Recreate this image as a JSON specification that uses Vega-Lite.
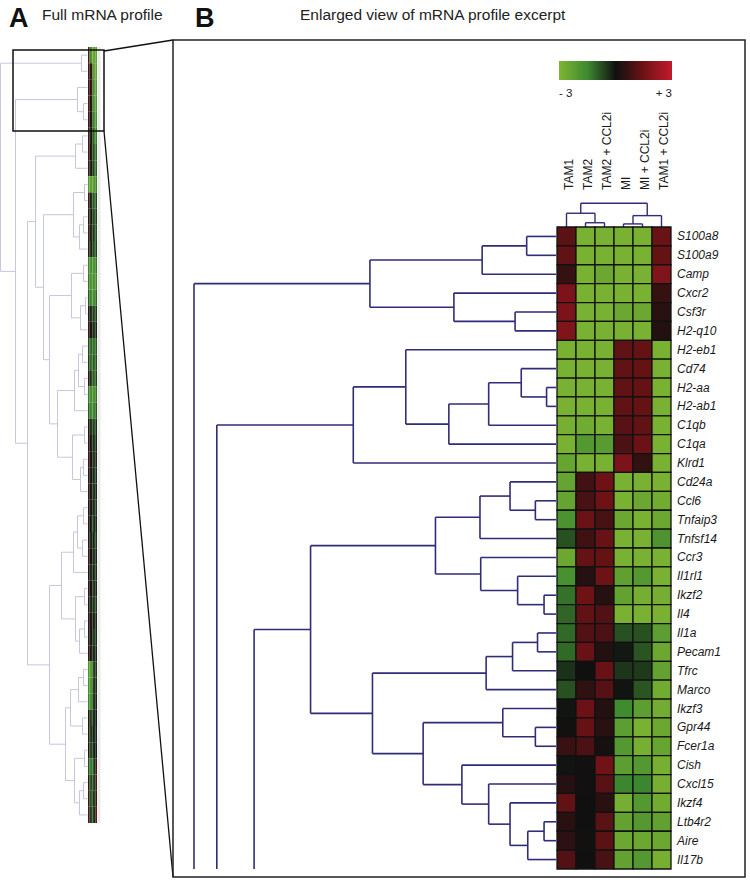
{
"$schema":"https://vega.github.io/schema/vega-lite/v6.json",
"width":750,"height":884,"autosize":{"type":"none"},"padding":0,
"background":"white",
"config":{"view":{"stroke":null},"font":"Liberation Sans"},
"datasets":{
"heatB":[
{"g":"S100a8","c":"TAM1","v":1.2},{"g":"S100a8","c":"TAM2","v":-2.85},{"g":"S100a8","c":"TAM2 + CCL2i","v":-2.85},{"g":"S100a8","c":"MI","v":-2.85},{"g":"S100a8","c":"MI + CCL2i","v":-2.85},{"g":"S100a8","c":"TAM1 + CCL2i","v":1.45},
{"g":"S100a9","c":"TAM1","v":1.3},{"g":"S100a9","c":"TAM2","v":-2.85},{"g":"S100a9","c":"TAM2 + CCL2i","v":-2.85},{"g":"S100a9","c":"MI","v":-2.85},{"g":"S100a9","c":"MI + CCL2i","v":-2.85},{"g":"S100a9","c":"TAM1 + CCL2i","v":1.35},
{"g":"Camp","c":"TAM1","v":0.6},{"g":"Camp","c":"TAM2","v":-2.85},{"g":"Camp","c":"TAM2 + CCL2i","v":-2.55},{"g":"Camp","c":"MI","v":-2.85},{"g":"Camp","c":"MI + CCL2i","v":-2.85},{"g":"Camp","c":"TAM1 + CCL2i","v":1.8},
{"g":"Cxcr2","c":"TAM1","v":1.75},{"g":"Cxcr2","c":"TAM2","v":-2.85},{"g":"Cxcr2","c":"TAM2 + CCL2i","v":-2.85},{"g":"Cxcr2","c":"MI","v":-2.85},{"g":"Cxcr2","c":"MI + CCL2i","v":-2.85},{"g":"Cxcr2","c":"TAM1 + CCL2i","v":0.6},
{"g":"Csf3r","c":"TAM1","v":1.75},{"g":"Csf3r","c":"TAM2","v":-2.85},{"g":"Csf3r","c":"TAM2 + CCL2i","v":-2.85},{"g":"Csf3r","c":"MI","v":-2.55},{"g":"Csf3r","c":"MI + CCL2i","v":-2.55},{"g":"Csf3r","c":"TAM1 + CCL2i","v":0.4},
{"g":"H2-q10","c":"TAM1","v":1.8},{"g":"H2-q10","c":"TAM2","v":-2.85},{"g":"H2-q10","c":"TAM2 + CCL2i","v":-2.85},{"g":"H2-q10","c":"MI","v":-2.85},{"g":"H2-q10","c":"MI + CCL2i","v":-2.85},{"g":"H2-q10","c":"TAM1 + CCL2i","v":0.3},
{"g":"H2-eb1","c":"TAM1","v":-2.85},{"g":"H2-eb1","c":"TAM2","v":-2.85},{"g":"H2-eb1","c":"TAM2 + CCL2i","v":-2.85},{"g":"H2-eb1","c":"MI","v":1.3},{"g":"H2-eb1","c":"MI + CCL2i","v":1.35},{"g":"H2-eb1","c":"TAM1 + CCL2i","v":-2.85},
{"g":"Cd74","c":"TAM1","v":-2.85},{"g":"Cd74","c":"TAM2","v":-2.85},{"g":"Cd74","c":"TAM2 + CCL2i","v":-2.85},{"g":"Cd74","c":"MI","v":1.3},{"g":"Cd74","c":"MI + CCL2i","v":1.35},{"g":"Cd74","c":"TAM1 + CCL2i","v":-2.85},
{"g":"H2-aa","c":"TAM1","v":-2.85},{"g":"H2-aa","c":"TAM2","v":-2.85},{"g":"H2-aa","c":"TAM2 + CCL2i","v":-2.85},{"g":"H2-aa","c":"MI","v":1.3},{"g":"H2-aa","c":"MI + CCL2i","v":1.35},{"g":"H2-aa","c":"TAM1 + CCL2i","v":-2.85},
{"g":"H2-ab1","c":"TAM1","v":-2.85},{"g":"H2-ab1","c":"TAM2","v":-2.85},{"g":"H2-ab1","c":"TAM2 + CCL2i","v":-2.85},{"g":"H2-ab1","c":"MI","v":1.3},{"g":"H2-ab1","c":"MI + CCL2i","v":1.35},{"g":"H2-ab1","c":"TAM1 + CCL2i","v":-2.85},
{"g":"C1qb","c":"TAM1","v":-2.8},{"g":"C1qb","c":"TAM2","v":-2.65},{"g":"C1qb","c":"TAM2 + CCL2i","v":-2.85},{"g":"C1qb","c":"MI","v":1.15},{"g":"C1qb","c":"MI + CCL2i","v":1.3},{"g":"C1qb","c":"TAM1 + CCL2i","v":-2.85},
{"g":"C1qa","c":"TAM1","v":-2.85},{"g":"C1qa","c":"TAM2","v":-2.0},{"g":"C1qa","c":"TAM2 + CCL2i","v":-2.1},{"g":"C1qa","c":"MI","v":0.95},{"g":"C1qa","c":"MI + CCL2i","v":1.45},{"g":"C1qa","c":"TAM1 + CCL2i","v":-2.85},
{"g":"Klrd1","c":"TAM1","v":-2.45},{"g":"Klrd1","c":"TAM2","v":-2.85},{"g":"Klrd1","c":"TAM2 + CCL2i","v":-2.85},{"g":"Klrd1","c":"MI","v":1.75},{"g":"Klrd1","c":"MI + CCL2i","v":0.55},{"g":"Klrd1","c":"TAM1 + CCL2i","v":-2.85},
{"g":"Cd24a","c":"TAM1","v":-2.4},{"g":"Cd24a","c":"TAM2","v":0.8},{"g":"Cd24a","c":"TAM2 + CCL2i","v":1.5},{"g":"Cd24a","c":"MI","v":-2.85},{"g":"Cd24a","c":"MI + CCL2i","v":-2.85},{"g":"Cd24a","c":"TAM1 + CCL2i","v":-2.85},
{"g":"Ccl6","c":"TAM1","v":-2.4},{"g":"Ccl6","c":"TAM2","v":0.9},{"g":"Ccl6","c":"TAM2 + CCL2i","v":1.5},{"g":"Ccl6","c":"MI","v":-2.85},{"g":"Ccl6","c":"MI + CCL2i","v":-2.55},{"g":"Ccl6","c":"TAM1 + CCL2i","v":-2.65},
{"g":"Tnfaip3","c":"TAM1","v":-1.8},{"g":"Tnfaip3","c":"TAM2","v":1.45},{"g":"Tnfaip3","c":"TAM2 + CCL2i","v":0.9},{"g":"Tnfaip3","c":"MI","v":-2.55},{"g":"Tnfaip3","c":"MI + CCL2i","v":-2.85},{"g":"Tnfaip3","c":"TAM1 + CCL2i","v":-2.55},
{"g":"Tnfsf14","c":"TAM1","v":-0.8},{"g":"Tnfsf14","c":"TAM2","v":0.75},{"g":"Tnfsf14","c":"TAM2 + CCL2i","v":1.4},{"g":"Tnfsf14","c":"MI","v":-2.85},{"g":"Tnfsf14","c":"MI + CCL2i","v":-2.85},{"g":"Tnfsf14","c":"TAM1 + CCL2i","v":-1.85},
{"g":"Ccr3","c":"TAM1","v":-2.55},{"g":"Ccr3","c":"TAM2","v":1.35},{"g":"Ccr3","c":"TAM2 + CCL2i","v":1.35},{"g":"Ccr3","c":"MI","v":-2.85},{"g":"Ccr3","c":"MI + CCL2i","v":-2.85},{"g":"Ccr3","c":"TAM1 + CCL2i","v":-2.85},
{"g":"Il1rl1","c":"TAM1","v":-1.75},{"g":"Il1rl1","c":"TAM2","v":0.35},{"g":"Il1rl1","c":"TAM2 + CCL2i","v":1.5},{"g":"Il1rl1","c":"MI","v":-2.25},{"g":"Il1rl1","c":"MI + CCL2i","v":-2.0},{"g":"Il1rl1","c":"TAM1 + CCL2i","v":-2.85},
{"g":"Ikzf2","c":"TAM1","v":-1.2},{"g":"Ikzf2","c":"TAM2","v":1.5},{"g":"Ikzf2","c":"TAM2 + CCL2i","v":0.35},{"g":"Ikzf2","c":"MI","v":-2.35},{"g":"Ikzf2","c":"MI + CCL2i","v":-2.75},{"g":"Ikzf2","c":"TAM1 + CCL2i","v":-2.75},
{"g":"Il4","c":"TAM1","v":-1.05},{"g":"Il4","c":"TAM2","v":1.3},{"g":"Il4","c":"TAM2 + CCL2i","v":1.05},{"g":"Il4","c":"MI","v":-2.85},{"g":"Il4","c":"MI + CCL2i","v":-2.85},{"g":"Il4","c":"TAM1 + CCL2i","v":-2.85},
{"g":"Il1a","c":"TAM1","v":-1.1},{"g":"Il1a","c":"TAM2","v":1.05},{"g":"Il1a","c":"TAM2 + CCL2i","v":0.95},{"g":"Il1a","c":"MI","v":-0.8},{"g":"Il1a","c":"MI + CCL2i","v":-0.8},{"g":"Il1a","c":"TAM1 + CCL2i","v":-2.2},
{"g":"Pecam1","c":"TAM1","v":-1.1},{"g":"Pecam1","c":"TAM2","v":1.4},{"g":"Pecam1","c":"TAM2 + CCL2i","v":0.3},{"g":"Pecam1","c":"MI","v":-0.1},{"g":"Pecam1","c":"MI + CCL2i","v":-0.85},{"g":"Pecam1","c":"TAM1 + CCL2i","v":-2.55},
{"g":"Tfrc","c":"TAM1","v":-0.4},{"g":"Tfrc","c":"TAM2","v":0.0},{"g":"Tfrc","c":"TAM2 + CCL2i","v":1.4},{"g":"Tfrc","c":"MI","v":-0.45},{"g":"Tfrc","c":"MI + CCL2i","v":-0.5},{"g":"Tfrc","c":"TAM1 + CCL2i","v":-2.35},
{"g":"Marco","c":"TAM1","v":-0.8},{"g":"Marco","c":"TAM2","v":0.5},{"g":"Marco","c":"TAM2 + CCL2i","v":1.1},{"g":"Marco","c":"MI","v":-0.05},{"g":"Marco","c":"MI + CCL2i","v":-0.85},{"g":"Marco","c":"TAM1 + CCL2i","v":-2.65},
{"g":"Ikzf3","c":"TAM1","v":-0.05},{"g":"Ikzf3","c":"TAM2","v":1.45},{"g":"Ikzf3","c":"TAM2 + CCL2i","v":0.3},{"g":"Ikzf3","c":"MI","v":-1.55},{"g":"Ikzf3","c":"MI + CCL2i","v":-2.2},{"g":"Ikzf3","c":"TAM1 + CCL2i","v":-2.7},
{"g":"Gpr44","c":"TAM1","v":0.05},{"g":"Gpr44","c":"TAM2","v":1.35},{"g":"Gpr44","c":"TAM2 + CCL2i","v":0.4},{"g":"Gpr44","c":"MI","v":-2.2},{"g":"Gpr44","c":"MI + CCL2i","v":-2.85},{"g":"Gpr44","c":"TAM1 + CCL2i","v":-2.55},
{"g":"Fcer1a","c":"TAM1","v":0.65},{"g":"Fcer1a","c":"TAM2","v":0.95},{"g":"Fcer1a","c":"TAM2 + CCL2i","v":0.1},{"g":"Fcer1a","c":"MI","v":-2.0},{"g":"Fcer1a","c":"MI + CCL2i","v":-2.8},{"g":"Fcer1a","c":"TAM1 + CCL2i","v":-2.45},
{"g":"Cish","c":"TAM1","v":-0.05},{"g":"Cish","c":"TAM2","v":0.05},{"g":"Cish","c":"TAM2 + CCL2i","v":1.55},{"g":"Cish","c":"MI","v":-2.2},{"g":"Cish","c":"MI + CCL2i","v":-2.0},{"g":"Cish","c":"TAM1 + CCL2i","v":-2.8},
{"g":"Cxcl15","c":"TAM1","v":0.35},{"g":"Cxcl15","c":"TAM2","v":0.03},{"g":"Cxcl15","c":"TAM2 + CCL2i","v":1.15},{"g":"Cxcl15","c":"MI","v":-1.45},{"g":"Cxcl15","c":"MI + CCL2i","v":-1.45},{"g":"Cxcl15","c":"TAM1 + CCL2i","v":-2.8},
{"g":"Ikzf4","c":"TAM1","v":1.3},{"g":"Ikzf4","c":"TAM2","v":0.0},{"g":"Ikzf4","c":"TAM2 + CCL2i","v":0.4},{"g":"Ikzf4","c":"MI","v":-2.75},{"g":"Ikzf4","c":"MI + CCL2i","v":-2.0},{"g":"Ikzf4","c":"TAM1 + CCL2i","v":-2.65},
{"g":"Ltb4r2","c":"TAM1","v":0.4},{"g":"Ltb4r2","c":"TAM2","v":0.0},{"g":"Ltb4r2","c":"TAM2 + CCL2i","v":1.2},{"g":"Ltb4r2","c":"MI","v":-2.35},{"g":"Ltb4r2","c":"MI + CCL2i","v":-2.0},{"g":"Ltb4r2","c":"TAM1 + CCL2i","v":-2.3},
{"g":"Aire","c":"TAM1","v":0.45},{"g":"Aire","c":"TAM2","v":0.05},{"g":"Aire","c":"TAM2 + CCL2i","v":1.2},{"g":"Aire","c":"MI","v":-2.55},{"g":"Aire","c":"MI + CCL2i","v":-2.55},{"g":"Aire","c":"TAM1 + CCL2i","v":-2.55},
{"g":"Il17b","c":"TAM1","v":1.05},{"g":"Il17b","c":"TAM2","v":0.0},{"g":"Il17b","c":"TAM2 + CCL2i","v":0.9},{"g":"Il17b","c":"MI","v":-2.35},{"g":"Il17b","c":"MI + CCL2i","v":-2.0},{"g":"Il17b","c":"TAM1 + CCL2i","v":-2.8}
],
"dendroB":[
{"h":8.1,"y1":0.5,"h1":0,"y2":1.5,"h2":0},
{"h":20.4,"y1":1.0,"h1":8.1,"y2":2.5,"h2":0},
{"h":11.3,"y1":4.5,"h1":0,"y2":5.5,"h2":0},
{"h":28.2,"y1":3.5,"h1":0,"y2":5.0,"h2":11.3},
{"h":51.4,"y1":1.75,"h1":20.4,"y2":4.25,"h2":28.2},
{"h":100,"y1":3.0,"h1":51.4,"y2":34,"h2":100},
{"h":2.6,"y1":8.5,"h1":0,"y2":9.5,"h2":0},
{"h":9.6,"y1":7.5,"h1":0,"y2":9.0,"h2":2.6},
{"h":18.6,"y1":8.25,"h1":9.6,"y2":10.5,"h2":0},
{"h":29.6,"y1":9.375,"h1":18.6,"y2":11.5,"h2":0},
{"h":41.5,"y1":6.5,"h1":0,"y2":10.4375,"h2":29.6},
{"h":56.0,"y1":8.469,"h1":41.5,"y2":12.5,"h2":0},
{"h":93.7,"y1":10.484,"h1":56.0,"y2":34,"h2":93.7},
{"h":5.7,"y1":14.5,"h1":0,"y2":15.5,"h2":0},
{"h":12.7,"y1":13.5,"h1":0,"y2":15.0,"h2":5.7},
{"h":21.0,"y1":14.25,"h1":12.7,"y2":16.5,"h2":0},
{"h":3.3,"y1":19.5,"h1":0,"y2":20.5,"h2":0},
{"h":10.6,"y1":18.5,"h1":0,"y2":20.0,"h2":3.3},
{"h":20.8,"y1":17.5,"h1":0,"y2":19.25,"h2":10.6},
{"h":33.3,"y1":15.375,"h1":21.0,"y2":18.375,"h2":20.8},
{"h":5.1,"y1":21.5,"h1":0,"y2":22.5,"h2":0},
{"h":12.0,"y1":22.0,"h1":5.1,"y2":23.5,"h2":0},
{"h":19.3,"y1":22.75,"h1":12.0,"y2":24.5,"h2":0},
{"h":5.7,"y1":26.5,"h1":0,"y2":27.5,"h2":0},
{"h":14.7,"y1":25.5,"h1":0,"y2":27.0,"h2":5.7},
{"h":3.3,"y1":31.5,"h1":0,"y2":32.5,"h2":0},
{"h":7.8,"y1":32.0,"h1":3.3,"y2":33.5,"h2":0},
{"h":12.7,"y1":30.5,"h1":0,"y2":32.75,"h2":7.8},
{"h":18.6,"y1":29.5,"h1":0,"y2":31.625,"h2":12.7},
{"h":26.0,"y1":28.5,"h1":0,"y2":30.5625,"h2":18.6},
{"h":36.7,"y1":26.25,"h1":14.7,"y2":29.531,"h2":26.0},
{"h":50.7,"y1":23.625,"h1":19.3,"y2":27.89,"h2":36.7},
{"h":67.8,"y1":16.875,"h1":33.3,"y2":25.758,"h2":50.7},
{"h":83.4,"y1":21.316,"h1":67.8,"y2":34,"h2":83.4}
],
"dendroC":[
{"h":1.8,"x1":1.5,"h1":0,"x2":2.5,"h2":0},
{"h":5.8,"x1":0.5,"h1":0,"x2":2.0,"h2":1.8},
{"h":1.3,"x1":3.5,"h1":0,"x2":4.5,"h2":0},
{"h":4.8,"x1":4.0,"h1":1.3,"x2":5.5,"h2":0},
{"h":10,"x1":1.25,"h1":5.8,"x2":4.75,"h2":4.8}
],
"dendroA":[
{"h":6,"y1":0.5,"h1":0,"y2":1.5,"h2":0},
{"h":4,"y1":3.5,"h1":0,"y2":4.5,"h2":0},
{"h":10,"y1":2.5,"h1":0,"y2":4.0,"h2":4},
{"h":5,"y1":5.5,"h1":0,"y2":6.5,"h2":0},
{"h":12,"y1":6.0,"h1":5,"y2":7.5,"h2":0},
{"h":3,"y1":8.5,"h1":0,"y2":9.5,"h2":0},
{"h":4,"y1":10.5,"h1":0,"y2":11.5,"h2":0},
{"h":8,"y1":11.0,"h1":4,"y2":12.5,"h2":0},
{"h":14,"y1":9.0,"h1":3,"y2":11.75,"h2":8},
{"h":4,"y1":13.5,"h1":0,"y2":14.5,"h2":0},
{"h":2,"y1":15.5,"h1":0,"y2":16.5,"h2":0},
{"h":7,"y1":16.0,"h1":2,"y2":17.5,"h2":0},
{"h":16,"y1":14.0,"h1":4,"y2":16.75,"h2":7},
{"h":5,"y1":18.5,"h1":0,"y2":19.5,"h2":0},
{"h":3,"y1":20.5,"h1":0,"y2":21.5,"h2":0},
{"h":9,"y1":19.0,"h1":5,"y2":21.0,"h2":3},
{"h":13,"y1":20.0,"h1":9,"y2":22.5,"h2":0},
{"h":3,"y1":23.5,"h1":0,"y2":24.5,"h2":0},
{"h":4,"y1":25.5,"h1":0,"y2":26.5,"h2":0},
{"h":7,"y1":26.0,"h1":4,"y2":27.5,"h2":0},
{"h":15,"y1":24.0,"h1":3,"y2":26.75,"h2":7},
{"h":4,"y1":28.5,"h1":0,"y2":29.5,"h2":0},
{"h":5,"y1":30.5,"h1":0,"y2":31.5,"h2":0},
{"h":10,"y1":29.0,"h1":4,"y2":31.0,"h2":5},
{"h":14,"y1":30.0,"h1":10,"y2":32.5,"h2":0},
{"h":3,"y1":33.5,"h1":0,"y2":34.5,"h2":0},
{"h":3,"y1":35.5,"h1":0,"y2":36.5,"h2":0},
{"h":8,"y1":36.0,"h1":3,"y2":37.5,"h2":0},
{"h":12,"y1":34.0,"h1":3,"y2":36.75,"h2":8},
{"h":4,"y1":38.5,"h1":0,"y2":39.5,"h2":0},
{"h":9,"y1":39.0,"h1":4,"y2":40.5,"h2":0},
{"h":5,"y1":41.5,"h1":0,"y2":42.5,"h2":0},
{"h":17,"y1":39.75,"h1":9,"y2":42.0,"h2":5},
{"h":3,"y1":43.5,"h1":0,"y2":44.5,"h2":0},
{"h":4,"y1":45.5,"h1":0,"y2":46.5,"h2":0},
{"h":8,"y1":46.0,"h1":4,"y2":47.5,"h2":0},
{"h":13,"y1":44.0,"h1":3,"y2":46.75,"h2":8},
{"h":30,"y1":21.25,"h1":13,"y2":25.375,"h2":15},
{"h":38,"y1":15.375,"h1":16,"y2":23.31,"h2":30},
{"h":44,"y1":10.375,"h1":14,"y2":19.34,"h2":38},
{"h":52,"y1":6.75,"h1":12,"y2":14.86,"h2":44},
{"h":26,"y1":31.25,"h1":14,"y2":35.375,"h2":12},
{"h":22,"y1":40.875,"h1":17,"y2":45.375,"h2":13},
{"h":38,"y1":33.31,"h1":26,"y2":43.125,"h2":22},
{"h":60,"y1":10.8,"h1":52,"y2":38.22,"h2":38},
{"h":72,"y1":3.25,"h1":10,"y2":24.51,"h2":60},
{"h":87,"y1":1.0,"h1":6,"y2":13.88,"h2":72}
],
"heatA":[
{"r":0,"c":1,"v":1.2},{"r":0,"c":2,"v":-1.5},{"r":0,"c":3,"v":-2.0},{"r":0,"c":4,"v":-2.6},{"r":0,"c":5,"v":-2.4},{"r":0,"c":6,"v":-2.2},
{"r":1,"c":1,"v":1.0},{"r":1,"c":2,"v":-0.3},{"r":1,"c":3,"v":0.6},{"r":1,"c":4,"v":-2.2},{"r":1,"c":5,"v":-2.4},{"r":1,"c":6,"v":-2.2},
{"r":2,"c":1,"v":0.8},{"r":2,"c":2,"v":0.4},{"r":2,"c":3,"v":0.8},{"r":2,"c":4,"v":-1.6},{"r":2,"c":5,"v":-2.2},{"r":2,"c":6,"v":-2.0},
{"r":3,"c":1,"v":1.2},{"r":3,"c":2,"v":0.2},{"r":3,"c":3,"v":-0.2},{"r":3,"c":4,"v":-1.8},{"r":3,"c":5,"v":-2.2},{"r":3,"c":6,"v":-1.8},
{"r":4,"c":1,"v":0.9},{"r":4,"c":2,"v":-0.1},{"r":4,"c":3,"v":0.4},{"r":4,"c":4,"v":-1.4},{"r":4,"c":5,"v":-1.9},{"r":4,"c":6,"v":-1.6},
{"r":5,"c":1,"v":1.0},{"r":5,"c":2,"v":-0.3},{"r":5,"c":3,"v":-0.1},{"r":5,"c":4,"v":-1.0},{"r":5,"c":5,"v":-1.6},{"r":5,"c":6,"v":-1.3},
{"r":6,"c":1,"v":1.1},{"r":6,"c":2,"v":0.0},{"r":6,"c":3,"v":-0.3},{"r":6,"c":4,"v":-0.8},{"r":6,"c":5,"v":-1.2},{"r":6,"c":6,"v":-1.0},
{"r":7,"c":1,"v":0.8},{"r":7,"c":2,"v":-0.4},{"r":7,"c":3,"v":-0.1},{"r":7,"c":4,"v":-0.6},{"r":7,"c":5,"v":-1.3},{"r":7,"c":6,"v":-0.9},
{"r":8,"c":1,"v":-2.0},{"r":8,"c":2,"v":-2.4},{"r":8,"c":3,"v":-2.2},{"r":8,"c":4,"v":-2.3},{"r":8,"c":5,"v":-2.0},{"r":8,"c":6,"v":-1.4},
{"r":9,"c":1,"v":1.0},{"r":9,"c":2,"v":-0.2},{"r":9,"c":3,"v":-0.5},{"r":9,"c":4,"v":-0.9},{"r":9,"c":5,"v":-1.3},{"r":9,"c":6,"v":-0.6},
{"r":10,"c":1,"v":0.6},{"r":10,"c":2,"v":-0.5},{"r":10,"c":3,"v":-0.1},{"r":10,"c":4,"v":-0.7},{"r":10,"c":5,"v":-1.0},{"r":10,"c":6,"v":-0.5},
{"r":11,"c":1,"v":0.9},{"r":11,"c":2,"v":-0.2},{"r":11,"c":3,"v":-0.4},{"r":11,"c":4,"v":-0.5},{"r":11,"c":5,"v":-0.9},{"r":11,"c":6,"v":-0.7},
{"r":12,"c":1,"v":0.7},{"r":12,"c":2,"v":-0.6},{"r":12,"c":3,"v":-0.2},{"r":12,"c":4,"v":-0.7},{"r":12,"c":5,"v":-1.1},{"r":12,"c":6,"v":-0.5},
{"r":13,"c":1,"v":-1.4},{"r":13,"c":2,"v":-1.9},{"r":13,"c":3,"v":-1.6},{"r":13,"c":4,"v":-2.0},{"r":13,"c":5,"v":-1.8},{"r":13,"c":6,"v":-1.2},
{"r":14,"c":1,"v":-1.2},{"r":14,"c":2,"v":-1.8},{"r":14,"c":3,"v":-2.0},{"r":14,"c":4,"v":-1.6},{"r":14,"c":5,"v":-2.0},{"r":14,"c":6,"v":-1.4},
{"r":15,"c":1,"v":-0.9},{"r":15,"c":2,"v":-1.4},{"r":15,"c":3,"v":-1.8},{"r":15,"c":4,"v":-1.8},{"r":15,"c":5,"v":-1.6},{"r":15,"c":6,"v":-1.0},
{"r":16,"c":1,"v":0.5},{"r":16,"c":2,"v":-0.3},{"r":16,"c":3,"v":-0.5},{"r":16,"c":4,"v":-0.6},{"r":16,"c":5,"v":-0.9},{"r":16,"c":6,"v":-0.4},
{"r":17,"c":1,"v":0.8},{"r":17,"c":2,"v":0.2},{"r":17,"c":3,"v":-0.1},{"r":17,"c":4,"v":-0.4},{"r":17,"c":5,"v":-0.6},{"r":17,"c":6,"v":-0.2},
{"r":18,"c":1,"v":-0.7},{"r":18,"c":2,"v":-1.3},{"r":18,"c":3,"v":-1.0},{"r":18,"c":4,"v":-1.2},{"r":18,"c":5,"v":-1.3},{"r":18,"c":6,"v":-0.8},
{"r":19,"c":1,"v":-0.5},{"r":19,"c":2,"v":-1.1},{"r":19,"c":3,"v":-1.3},{"r":19,"c":4,"v":-0.9},{"r":19,"c":5,"v":-1.2},{"r":19,"c":6,"v":-0.7},
{"r":20,"c":1,"v":0.6},{"r":20,"c":2,"v":-0.4},{"r":20,"c":3,"v":-0.8},{"r":20,"c":4,"v":-0.9},{"r":20,"c":5,"v":-1.3},{"r":20,"c":6,"v":-0.5},
{"r":21,"c":1,"v":-1.3},{"r":21,"c":2,"v":-1.8},{"r":21,"c":3,"v":-1.6},{"r":21,"c":4,"v":-1.9},{"r":21,"c":5,"v":-1.8},{"r":21,"c":6,"v":-1.1},
{"r":22,"c":1,"v":-0.9},{"r":22,"c":2,"v":-1.4},{"r":22,"c":3,"v":-1.7},{"r":22,"c":4,"v":-1.5},{"r":22,"c":5,"v":-1.4},{"r":22,"c":6,"v":-0.8},
{"r":23,"c":1,"v":0.4},{"r":23,"c":2,"v":-0.4},{"r":23,"c":3,"v":-0.5},{"r":23,"c":4,"v":-0.6},{"r":23,"c":5,"v":-0.9},{"r":23,"c":6,"v":-0.3},
{"r":24,"c":1,"v":0.6},{"r":24,"c":2,"v":0.2},{"r":24,"c":3,"v":-0.3},{"r":24,"c":4,"v":-0.4},{"r":24,"c":5,"v":-0.6},{"r":24,"c":6,"v":-0.2},
{"r":25,"c":1,"v":0.8},{"r":25,"c":2,"v":0.3},{"r":25,"c":3,"v":0.1},{"r":25,"c":4,"v":-0.5},{"r":25,"c":5,"v":-0.5},{"r":25,"c":6,"v":-0.2},
{"r":26,"c":1,"v":0.5},{"r":26,"c":2,"v":-0.2},{"r":26,"c":3,"v":0.2},{"r":26,"c":4,"v":-0.3},{"r":26,"c":5,"v":-0.7},{"r":26,"c":6,"v":-0.3},
{"r":27,"c":1,"v":0.7},{"r":27,"c":2,"v":0.1},{"r":27,"c":3,"v":-0.2},{"r":27,"c":4,"v":-0.5},{"r":27,"c":5,"v":-0.4},{"r":27,"c":6,"v":-0.2},
{"r":28,"c":1,"v":0.4},{"r":28,"c":2,"v":-0.2},{"r":28,"c":3,"v":0.2},{"r":28,"c":4,"v":-0.3},{"r":28,"c":5,"v":-0.6},{"r":28,"c":6,"v":-0.4},
{"r":29,"c":1,"v":0.6},{"r":29,"c":2,"v":0.0},{"r":29,"c":3,"v":-0.4},{"r":29,"c":4,"v":-0.7},{"r":29,"c":5,"v":-0.3},{"r":29,"c":6,"v":-0.2},
{"r":30,"c":1,"v":0.5},{"r":30,"c":2,"v":-0.4},{"r":30,"c":3,"v":-0.2},{"r":30,"c":4,"v":-0.2},{"r":30,"c":5,"v":-0.7},{"r":30,"c":6,"v":-0.4},
{"r":31,"c":1,"v":0.8},{"r":31,"c":2,"v":0.2},{"r":31,"c":3,"v":0.0},{"r":31,"c":4,"v":-0.4},{"r":31,"c":5,"v":-0.5},{"r":31,"c":6,"v":-0.2},
{"r":32,"c":1,"v":0.3},{"r":32,"c":2,"v":-0.3},{"r":32,"c":3,"v":-0.4},{"r":32,"c":4,"v":-0.2},{"r":32,"c":5,"v":-0.6},{"r":32,"c":6,"v":-0.3},
{"r":33,"c":1,"v":0.6},{"r":33,"c":2,"v":0.0},{"r":33,"c":3,"v":0.2},{"r":33,"c":4,"v":-0.6},{"r":33,"c":5,"v":-0.4},{"r":33,"c":6,"v":-0.2},
{"r":34,"c":1,"v":0.4},{"r":34,"c":2,"v":-0.4},{"r":34,"c":3,"v":-0.2},{"r":34,"c":4,"v":-0.4},{"r":34,"c":5,"v":-0.7},{"r":34,"c":6,"v":-0.4},
{"r":35,"c":1,"v":0.7},{"r":35,"c":2,"v":0.1},{"r":35,"c":3,"v":-0.2},{"r":35,"c":4,"v":-0.2},{"r":35,"c":5,"v":-0.4},{"r":35,"c":6,"v":-0.2},
{"r":36,"c":1,"v":0.5},{"r":36,"c":2,"v":-0.2},{"r":36,"c":3,"v":0.0},{"r":36,"c":4,"v":-0.5},{"r":36,"c":5,"v":-0.6},{"r":36,"c":6,"v":-0.3},
{"r":37,"c":1,"v":0.6},{"r":37,"c":2,"v":0.2},{"r":37,"c":3,"v":-0.3},{"r":37,"c":4,"v":-0.3},{"r":37,"c":5,"v":-0.4},{"r":37,"c":6,"v":-0.2},
{"r":38,"c":1,"v":-1.8},{"r":38,"c":2,"v":-2.2},{"r":38,"c":3,"v":-2.0},{"r":38,"c":4,"v":-0.8},{"r":38,"c":5,"v":-0.5},{"r":38,"c":6,"v":-0.4},
{"r":39,"c":1,"v":-1.6},{"r":39,"c":2,"v":-2.0},{"r":39,"c":3,"v":-1.8},{"r":39,"c":4,"v":-0.6},{"r":39,"c":5,"v":-0.4},{"r":39,"c":6,"v":-0.3},
{"r":40,"c":1,"v":-1.4},{"r":40,"c":2,"v":-1.8},{"r":40,"c":3,"v":-1.6},{"r":40,"c":4,"v":-0.5},{"r":40,"c":5,"v":-0.4},{"r":40,"c":6,"v":-0.2},
{"r":41,"c":1,"v":0.4},{"r":41,"c":2,"v":-0.6},{"r":41,"c":3,"v":-0.8},{"r":41,"c":4,"v":-0.4},{"r":41,"c":5,"v":-0.3},{"r":41,"c":6,"v":-0.1},
{"r":42,"c":1,"v":0.5},{"r":42,"c":2,"v":-0.7},{"r":42,"c":3,"v":-0.4},{"r":42,"c":4,"v":-0.2},{"r":42,"c":5,"v":-0.4},{"r":42,"c":6,"v":-0.2},
{"r":43,"c":1,"v":0.3},{"r":43,"c":2,"v":-0.8},{"r":43,"c":3,"v":-0.6},{"r":43,"c":4,"v":-0.4},{"r":43,"c":5,"v":-0.2},{"r":43,"c":6,"v":-0.1},
{"r":44,"c":1,"v":-0.7},{"r":44,"c":2,"v":-1.4},{"r":44,"c":3,"v":-1.3},{"r":44,"c":4,"v":-1.0},{"r":44,"c":5,"v":-0.4},{"r":44,"c":6,"v":0.8},
{"r":45,"c":1,"v":0.6},{"r":45,"c":2,"v":-1.0},{"r":45,"c":3,"v":-0.7},{"r":45,"c":4,"v":-0.8},{"r":45,"c":5,"v":-0.5},{"r":45,"c":6,"v":1.0},
{"r":46,"c":1,"v":0.8},{"r":46,"c":2,"v":-0.8},{"r":46,"c":3,"v":-1.1},{"r":46,"c":4,"v":-0.4},{"r":46,"c":5,"v":-0.7},{"r":46,"c":6,"v":0.6},
{"r":47,"c":1,"v":1.0},{"r":47,"c":2,"v":-0.5},{"r":47,"c":3,"v":-0.8},{"r":47,"c":4,"v":-0.7},{"r":47,"c":5,"v":-0.3},{"r":47,"c":6,"v":1.2}
]
},
"layer":[
{"data":{"name":"dendroA"},"mark":{"type":"rule","color":"#c6c6dc","strokeWidth":1},
 "encoding":{"x":{"field":"h","type":"quantitative","scale":{"domain":[0,87],"range":[87.5,0.5],"nice":false,"zero":false},"axis":null},
 "y":{"field":"y1","type":"quantitative","scale":{"domain":[0,48],"range":[47,823],"nice":false,"zero":false},"axis":null},"y2":{"field":"y2"}}},
{"data":{"name":"dendroA"},"mark":{"type":"rule","color":"#c6c6dc","strokeWidth":1},
 "encoding":{"x":{"field":"h1","type":"quantitative","scale":{"domain":[0,87],"range":[87.5,0.5],"nice":false,"zero":false},"axis":null},"x2":{"field":"h"},
 "y":{"field":"y1","type":"quantitative","scale":{"domain":[0,48],"range":[47,823],"nice":false,"zero":false},"axis":null}}},
{"data":{"name":"dendroA"},"mark":{"type":"rule","color":"#c6c6dc","strokeWidth":1},
 "encoding":{"x":{"field":"h2","type":"quantitative","scale":{"domain":[0,87],"range":[87.5,0.5],"nice":false,"zero":false},"axis":null},"x2":{"field":"h"},
 "y":{"field":"y2","type":"quantitative","scale":{"domain":[0,48],"range":[47,823],"nice":false,"zero":false},"axis":null}}},
{"data":{"name":"heatA"},"mark":{"type":"rect"},
 "encoding":{"x":{"field":"c","type":"ordinal","scale":{"domain":[1,2,3,4,5,6],"range":[88,97],"paddingInner":0,"paddingOuter":0},"axis":null},
 "y":{"field":"r","type":"ordinal","scale":{"domain":[0,1,2,3,4,5,6,7,8,9,10,11,12,13,14,15,16,17,18,19,20,21,22,23,24,25,26,27,28,29,30,31,32,33,34,35,36,37,38,39,40,41,42,43,44,45,46,47],"range":[47,823],"paddingInner":0,"paddingOuter":0},"axis":null},
 "color":{"field":"v","type":"quantitative","scale":{"domain":[-3,-1.5,0,1.5,3],"range":["#80b532","#3d8a30","#101010","#6e1216","#c41a2c"],"interpolate":"rgb"},"legend":null}}},
{"data":{"values":[{}]},"mark":{"type":"rect","fill":"#e4e4e4","opacity":0.8},
 "encoding":{"x":{"value":97.5},"y":{"value":47},"x2":{"value":100.5},"y2":{"value":823}}},
{"data":{"values":[{}]},"mark":{"type":"rect","fill":"transparent","stroke":"#111111","strokeWidth":1.5},
 "encoding":{"x":{"value":13},"y":{"value":50},"x2":{"value":104},"y2":{"value":131}}},
{"data":{"values":[{}]},"mark":{"type":"rule","color":"#111111","strokeWidth":1.3},
 "encoding":{"x":{"value":104},"y":{"value":51},"x2":{"value":173},"y2":{"value":40}}},
{"data":{"values":[{}]},"mark":{"type":"rule","color":"#111111","strokeWidth":1.3},
 "encoding":{"x":{"value":104},"y":{"value":131},"x2":{"value":173},"y2":{"value":877}}},
{"data":{"values":[{}]},"mark":{"type":"rect","fill":"transparent","stroke":"#222222","strokeWidth":1.5},
 "encoding":{"x":{"value":173},"y":{"value":40},"x2":{"value":745},"y2":{"value":877}}},
{"data":{"name":"dendroB"},"mark":{"type":"rule","color":"#302d78","strokeWidth":1.6},
 "encoding":{"x":{"field":"h","type":"quantitative","scale":{"domain":[0,100],"range":[556,194],"nice":false,"zero":false},"axis":null},
 "y":{"field":"y1","type":"quantitative","scale":{"domain":[0,34],"range":[227,869],"nice":false,"zero":false},"axis":null},"y2":{"field":"y2"}}},
{"data":{"name":"dendroB"},"mark":{"type":"rule","color":"#302d78","strokeWidth":1.6},
 "encoding":{"x":{"field":"h1","type":"quantitative","scale":{"domain":[0,100],"range":[556,194],"nice":false,"zero":false},"axis":null},"x2":{"field":"h"},
 "y":{"field":"y1","type":"quantitative","scale":{"domain":[0,34],"range":[227,869],"nice":false,"zero":false},"axis":null}}},
{"data":{"name":"dendroB"},"mark":{"type":"rule","color":"#302d78","strokeWidth":1.6},
 "encoding":{"x":{"field":"h2","type":"quantitative","scale":{"domain":[0,100],"range":[556,194],"nice":false,"zero":false},"axis":null},"x2":{"field":"h"},
 "y":{"field":"y2","type":"quantitative","scale":{"domain":[0,34],"range":[227,869],"nice":false,"zero":false},"axis":null}}},
{"data":{"name":"dendroC"},"mark":{"type":"rule","color":"#302d78","strokeWidth":1.4},
 "encoding":{"x":{"field":"x1","type":"quantitative","scale":{"domain":[0,6],"range":[557,671],"nice":false,"zero":false},"axis":null},"x2":{"field":"x2"},
 "y":{"field":"h","type":"quantitative","scale":{"domain":[0,10],"range":[227,203.3],"nice":false,"zero":false},"axis":null}}},
{"data":{"name":"dendroC"},"mark":{"type":"rule","color":"#302d78","strokeWidth":1.4},
 "encoding":{"x":{"field":"x1","type":"quantitative","scale":{"domain":[0,6],"range":[557,671],"nice":false,"zero":false},"axis":null},
 "y":{"field":"h1","type":"quantitative","scale":{"domain":[0,10],"range":[227,203.3],"nice":false,"zero":false},"axis":null},"y2":{"field":"h"}}},
{"data":{"name":"dendroC"},"mark":{"type":"rule","color":"#302d78","strokeWidth":1.4},
 "encoding":{"x":{"field":"x2","type":"quantitative","scale":{"domain":[0,6],"range":[557,671],"nice":false,"zero":false},"axis":null},
 "y":{"field":"h2","type":"quantitative","scale":{"domain":[0,10],"range":[227,203.3],"nice":false,"zero":false},"axis":null},"y2":{"field":"h"}}},
{"data":{"name":"heatB"},"mark":{"type":"rect","stroke":"#111111","strokeWidth":1.3},
 "encoding":{"x":{"field":"c","type":"nominal","scale":{"domain":["TAM1","TAM2","TAM2 + CCL2i","MI","MI + CCL2i","TAM1 + CCL2i"],"range":[557,671],"paddingInner":0,"paddingOuter":0},"axis":null},
 "y":{"field":"g","type":"nominal","scale":{"domain":["S100a8","S100a9","Camp","Cxcr2","Csf3r","H2-q10","H2-eb1","Cd74","H2-aa","H2-ab1","C1qb","C1qa","Klrd1","Cd24a","Ccl6","Tnfaip3","Tnfsf14","Ccr3","Il1rl1","Ikzf2","Il4","Il1a","Pecam1","Tfrc","Marco","Ikzf3","Gpr44","Fcer1a","Cish","Cxcl15","Ikzf4","Ltb4r2","Aire","Il17b"],"range":[227,869],"paddingInner":0,"paddingOuter":0},"axis":null},
 "color":{"field":"v","type":"quantitative","scale":{"domain":[-3,-1.5,0,1.5,3],"range":["#80b532","#3d8a30","#101010","#6e1216","#c41a2c"],"interpolate":"rgb"},
  "legend":{"orient":"none","legendX":559,"legendY":61,"direction":"horizontal","gradientLength":113,"gradientThickness":19,"title":null,"values":[-3,3],"labelExpr":"datum.value < 0 ? '- 3' : '+ 3'","labelFontSize":11.5,"labelColor":"#222222","labelOffset":8,"gradientStrokeWidth":0,"padding":0,"labelFont":"Liberation Sans"}}}},
{"data":{"name":"heatB"},"transform":[{"filter":"datum.c === 'TAM1'"}],"mark":{"type":"text","align":"left","baseline":"middle","fontSize":12,"fontStyle":"italic","color":"#1a1a1a","font":"Liberation Sans"},
 "encoding":{"x":{"value":677},
 "y":{"field":"g","type":"nominal","scale":{"domain":["S100a8","S100a9","Camp","Cxcr2","Csf3r","H2-q10","H2-eb1","Cd74","H2-aa","H2-ab1","C1qb","C1qa","Klrd1","Cd24a","Ccl6","Tnfaip3","Tnfsf14","Ccr3","Il1rl1","Ikzf2","Il4","Il1a","Pecam1","Tfrc","Marco","Ikzf3","Gpr44","Fcer1a","Cish","Cxcl15","Ikzf4","Ltb4r2","Aire","Il17b"],"range":[227,869],"paddingInner":0,"paddingOuter":0},"axis":null},
 "text":{"field":"g"}}},
{"data":{"name":"heatB"},"transform":[{"filter":"datum.g === 'S100a8'"}],"mark":{"type":"text","align":"left","baseline":"middle","angle":270,"fontSize":12,"dy":2,"color":"#1a1a1a","font":"Liberation Sans"},
 "encoding":{"x":{"field":"c","type":"nominal","scale":{"domain":["TAM1","TAM2","TAM2 + CCL2i","MI","MI + CCL2i","TAM1 + CCL2i"],"range":[557,671],"paddingInner":0,"paddingOuter":0},"axis":null},
 "y":{"value":190},"text":{"field":"c"}}},
{"data":{"values":[{"t":"A"}]},"mark":{"type":"text","align":"left","baseline":"alphabetic","fontSize":27,"fontWeight":"bold","color":"#111111","font":"Liberation Sans"},
 "encoding":{"x":{"value":9},"y":{"value":27},"text":{"field":"t"}}},
{"data":{"values":[{"t":"Full mRNA profile"}]},"mark":{"type":"text","align":"left","baseline":"alphabetic","fontSize":15.5,"color":"#222222","font":"Liberation Sans"},
 "encoding":{"x":{"value":42},"y":{"value":19.5},"text":{"field":"t"}}},
{"data":{"values":[{"t":"B"}]},"mark":{"type":"text","align":"left","baseline":"alphabetic","fontSize":27,"fontWeight":"bold","color":"#111111","font":"Liberation Sans"},
 "encoding":{"x":{"value":195},"y":{"value":27},"text":{"field":"t"}}},
{"data":{"values":[{"t":"Enlarged view of mRNA profile excerpt"}]},"mark":{"type":"text","align":"left","baseline":"alphabetic","fontSize":15.5,"color":"#222222","font":"Liberation Sans"},
 "encoding":{"x":{"value":300},"y":{"value":19.5},"text":{"field":"t"}}}
],
"resolve":{"scale":{"x":"independent","y":"independent","color":"independent"}}
}
